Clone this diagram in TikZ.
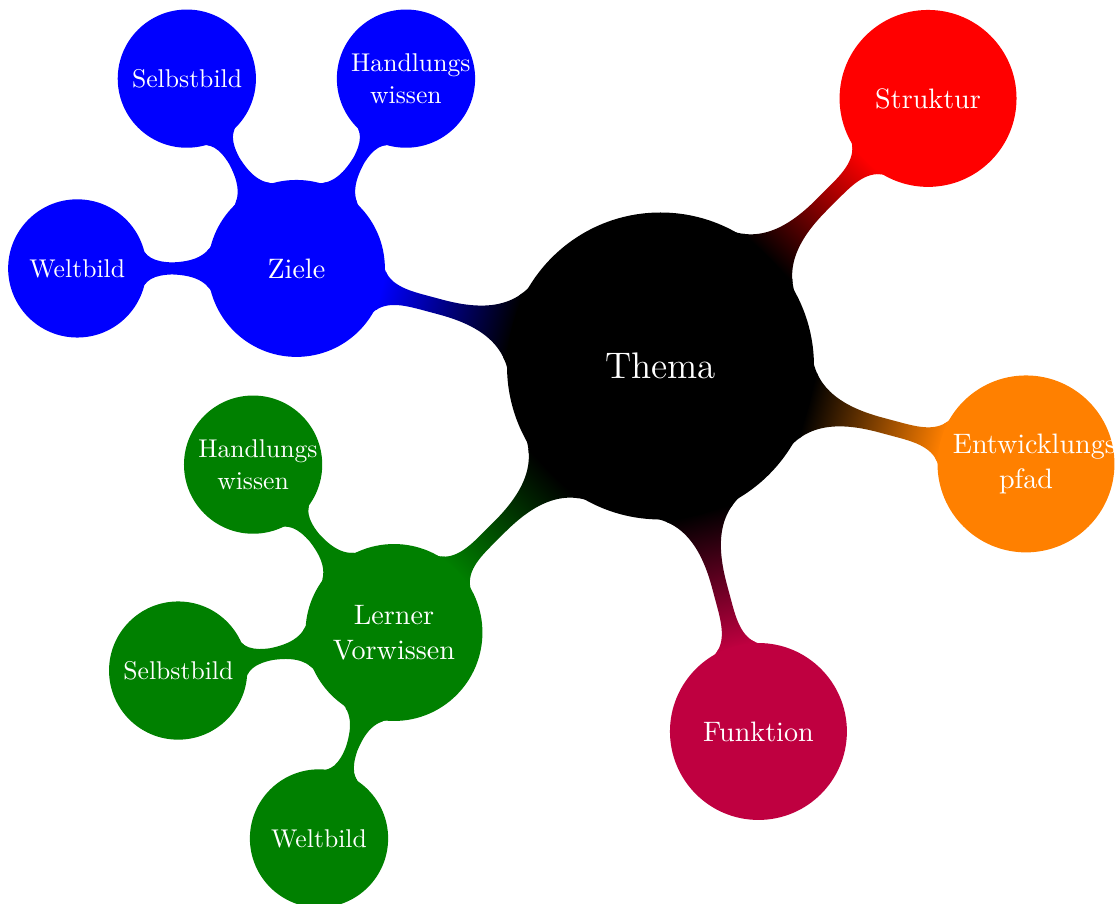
\documentclass[tikz,border=0pt]{standalone}
\usetikzlibrary{mindmap,calc}
\pgfdeclarelayer{background}
\pgfsetlayers{background,main}
\colorlet{greenc}{green!50!black}
\begin{document}
\begin{tikzpicture}[
  mindmap, text=white,
  rootc/.style={concept, concept color=black, minimum size=4.16cm, inner sep=0pt,
    text width=3.5cm, align=center, font=\fontsize{14.4}{17}\selectfont},
  mainc/.style={concept, minimum size=2.38cm, inner sep=0pt,
    text width=2cm, align=center, font=\fontsize{10.95}{13.6}\selectfont},
  subc/.style={concept, minimum size=1.85cm, inner sep=0pt,
    text width=1.5cm, align=center, font=\fontsize{10}{12.5}\selectfont},
  bar/.style={line width=2mm}
]
\useasboundingbox (-9.042,-7.365) rectangle (6.222,5.010);

% central topic
\node[rootc] (thema) at (0,0) {Thema};

% first ring
\node[mainc, concept color=red]    (struktur) at (45:5.18)  {Struktur};
\node[mainc, concept color=orange] (entw)     at (-15:5.18) {Entwicklungs pfad};
\node[mainc, concept color=purple] (funktion) at (-75:5.18) {Funktion};
\node[mainc, concept color=greenc] (lerner)   at (225:5.16) {Lerner Vorwissen};
\node[mainc, concept color=blue]   (ziele)    at (165:5.16) {Ziele};

% second ring around the goals
\node[subc, concept color=blue] (zhw) at ($(ziele)+(60:3)$)  {Handlungs wissen};
\node[subc, concept color=blue] (zsb) at ($(ziele)+(120:3)$) {Selbstbild};
\node[subc, concept color=blue] (zwb) at ($(ziele)+(180:3)$) {Weltbild};

% second ring around prior knowledge
\node[subc, concept color=greenc] (lhw) at ($(lerner)+(130:3)$) {Handlungs wissen};
\node[subc, concept color=greenc] (lsb) at ($(lerner)+(190:3)$) {Selbstbild};
\node[subc, concept color=greenc] (lwb) at ($(lerner)+(250:3)$) {Weltbild};

\begin{pgfonlayer}{background}
  \path[bar] (thema) to[circle connection bar switch color=from (black) to (red)] (struktur);
  \path[bar] (thema) to[circle connection bar switch color=from (black) to (orange)] (entw);
  \path[bar] (thema) to[circle connection bar switch color=from (black) to (purple)] (funktion);
  \path[bar] (thema) to[circle connection bar switch color=from (black) to (greenc)] (lerner);
  \path[bar] (thema) to[circle connection bar switch color=from (black) to (blue)] (ziele);
  \path[bar] (ziele) to[circle connection bar switch color=from (blue) to (blue)] (zhw);
  \path[bar] (ziele) to[circle connection bar switch color=from (blue) to (blue)] (zsb);
  \path[bar] (ziele) to[circle connection bar switch color=from (blue) to (blue)] (zwb);
  \path[bar] (lerner) to[circle connection bar switch color=from (greenc) to (greenc)] (lhw);
  \path[bar] (lerner) to[circle connection bar switch color=from (greenc) to (greenc)] (lsb);
  \path[bar] (lerner) to[circle connection bar switch color=from (greenc) to (greenc)] (lwb);
\end{pgfonlayer}
\end{tikzpicture}
\end{document}
